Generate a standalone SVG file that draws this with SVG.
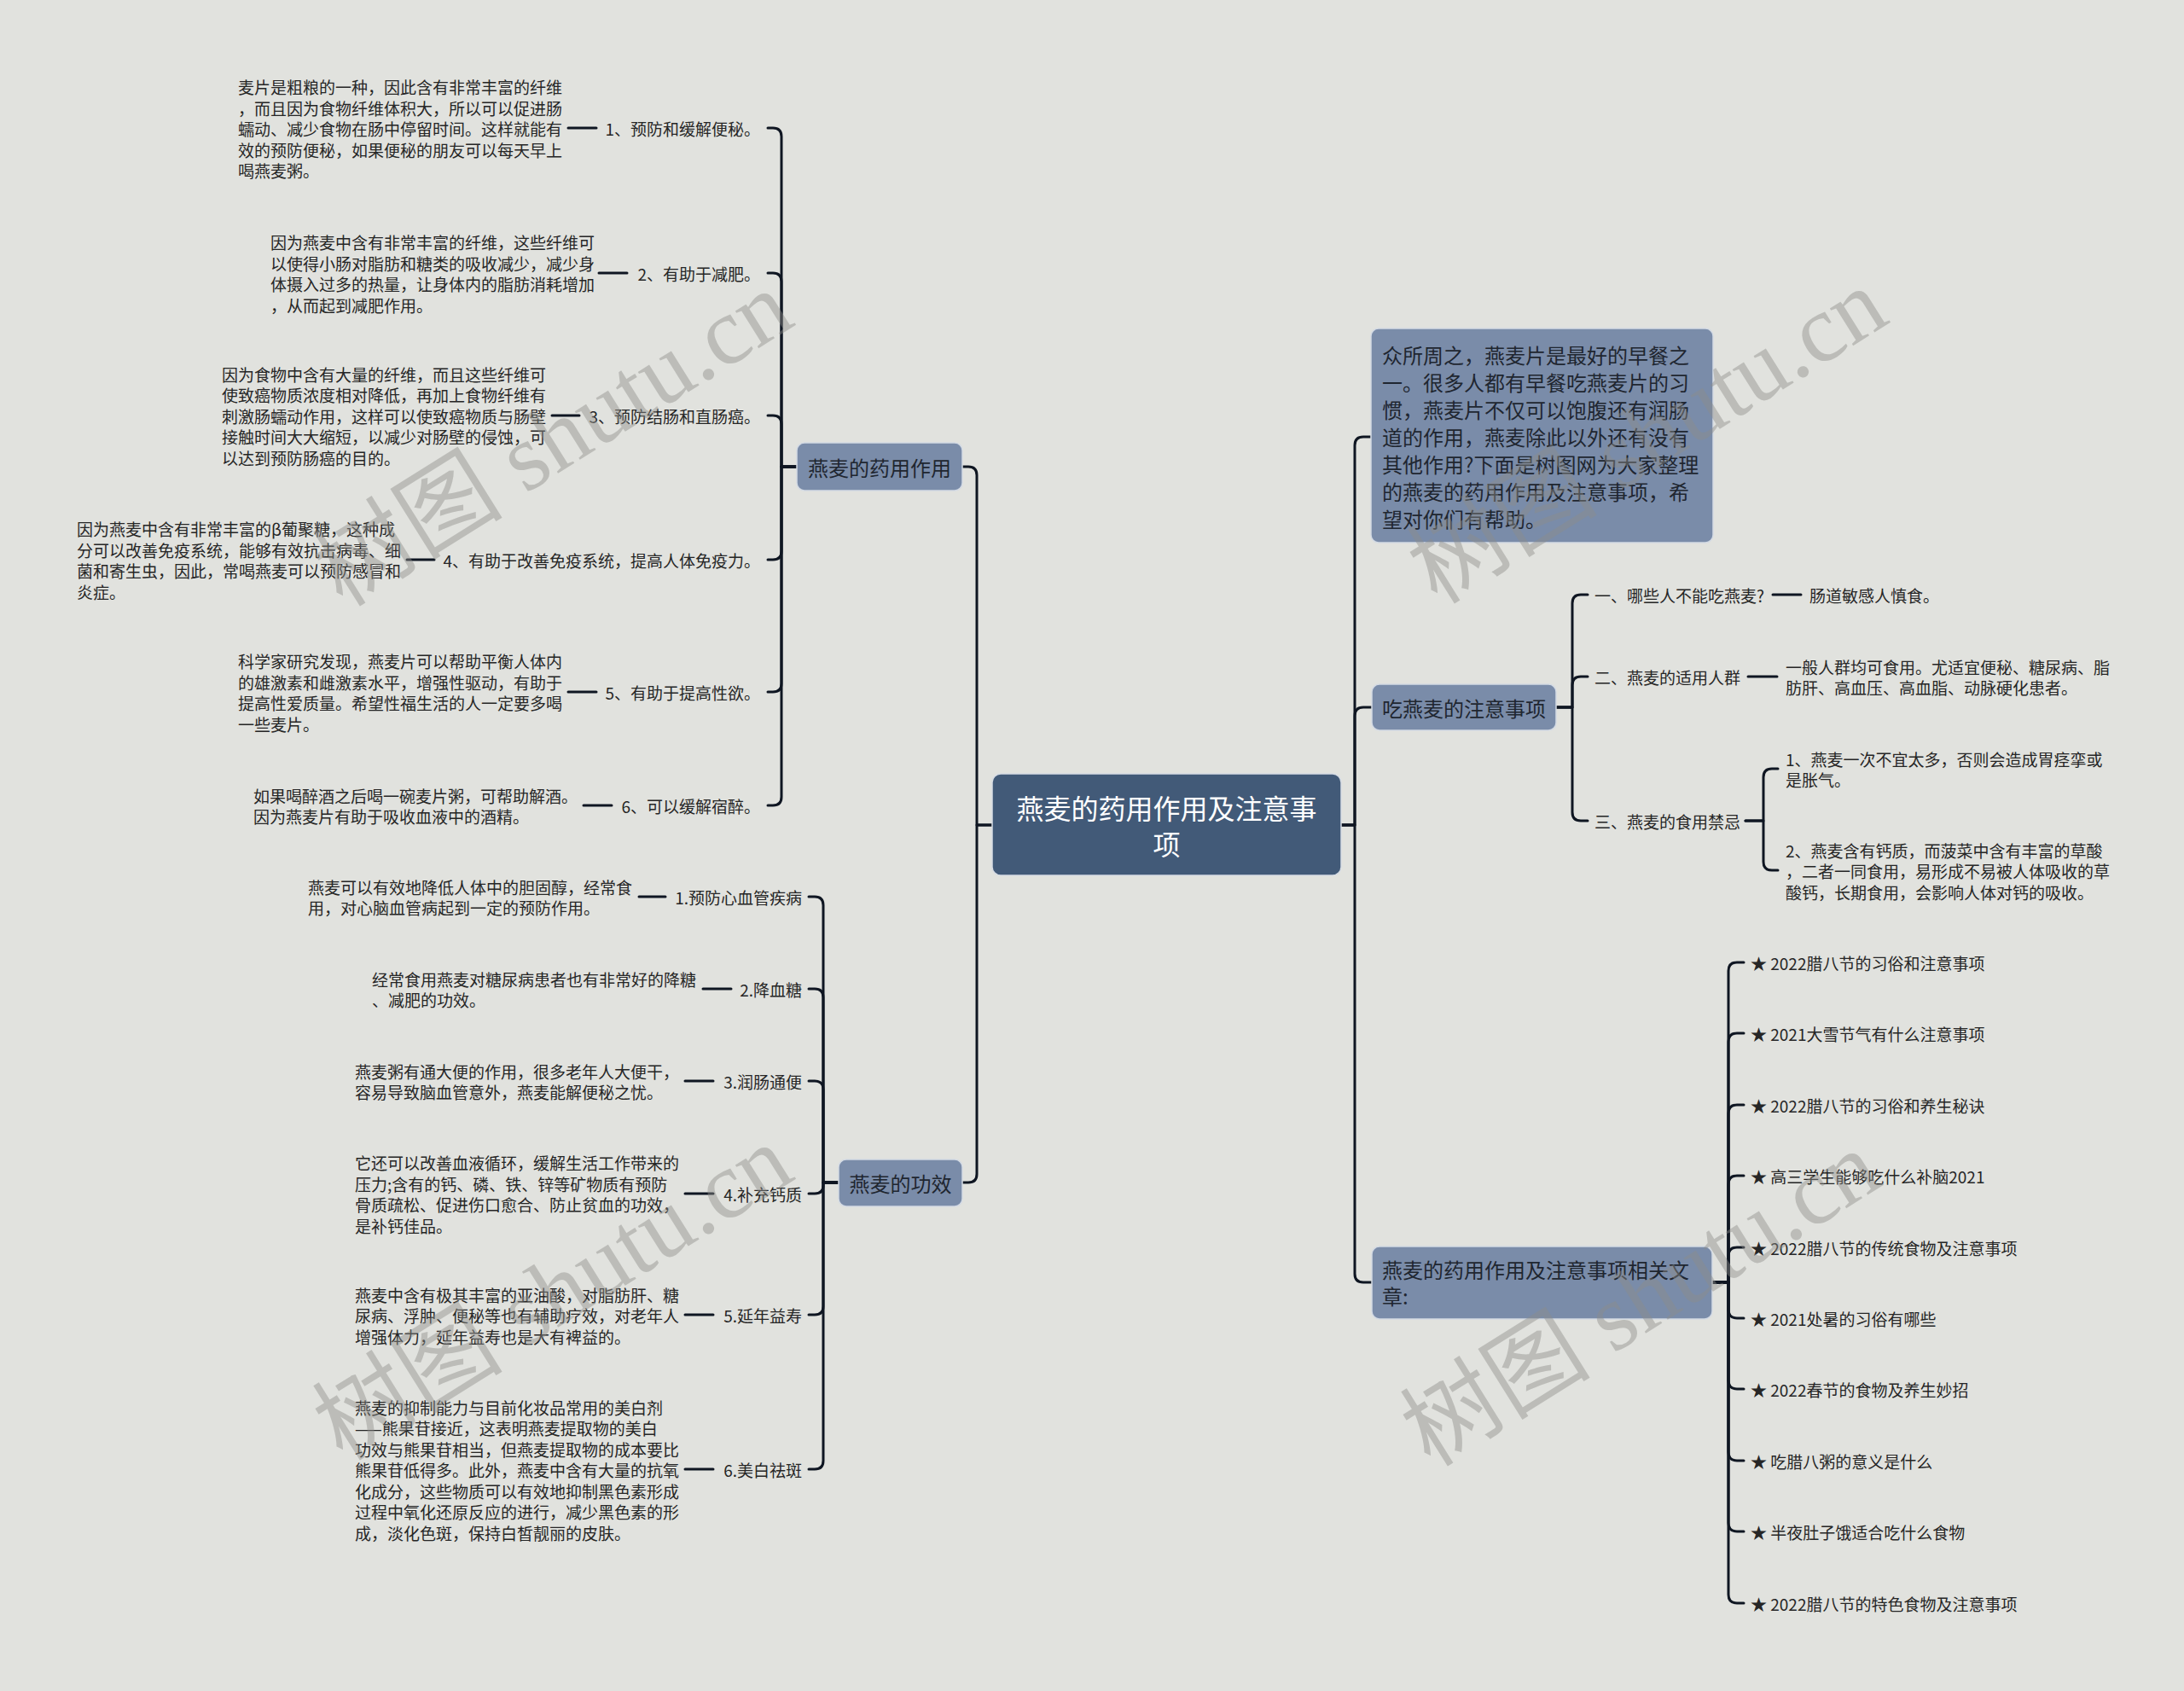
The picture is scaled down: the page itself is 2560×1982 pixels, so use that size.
<svg xmlns="http://www.w3.org/2000/svg" width="2560" height="1982" viewBox="0 0 2560 1982">
<defs>
<style>
.bg{fill:#e1e2de}
.ln{fill:none;stroke:#0f1622;stroke-width:3;stroke-linecap:round;stroke-linejoin:round}
.t{font-family:"Noto Sans CJK SC","Noto Sans",sans-serif;font-size:19px;fill:#262626;dominant-baseline:central}
.e{text-anchor:end}
.root{fill:#425a78;stroke:#d6dce4;stroke-width:1.5}
.rt{font-family:"Noto Sans CJK SC","Noto Sans",sans-serif;font-size:32px;fill:#ffffff;text-anchor:middle;dominant-baseline:central}
.br{fill:#7a8ca9;stroke:#d3dae4;stroke-width:1.5}
.bt{font-family:"Noto Sans CJK SC","Noto Sans",sans-serif;font-size:24px;fill:#1f2630;dominant-baseline:central}
.m{text-anchor:middle}
.wm{font-family:"Liberation Serif","Noto Sans CJK SC",serif;font-size:112px;fill:#8e8e8a;opacity:0.44;text-anchor:middle;dominant-baseline:central}
</style>
</defs>
<rect class="bg" x="0" y="0" width="2560" height="1982"/>

<g id="connectors">
<path class="ln" d="M1163 967 H1145 V557 Q1145 547 1135 547 H1128"/>
<path class="ln" d="M1163 967 H1145 V1376 Q1145 1386 1135 1386 H1128"/>
<path class="ln" d="M1572 967 H1588 V522 Q1588 512 1598 512 H1607"/>
<path class="ln" d="M1572 967 H1588 V839 Q1588 829 1598 829 H1608"/>
<path class="ln" d="M1572 967 H1588 V1493 Q1588 1503 1598 1503 H1608"/>
<path class="ln" d="M934 547 H916 V160 Q916 150 906 150 H900"/>
<path class="ln" d="M934 547 H916 V330 Q916 320 906 320 H900"/>
<path class="ln" d="M934 547 H916 V497 Q916 487 906 487 H900"/>
<path class="ln" d="M934 547 H916 V646 Q916 656 906 656 H900"/>
<path class="ln" d="M934 547 H916 V801 Q916 811 906 811 H900"/>
<path class="ln" d="M934 547 H916 V934 Q916 944 906 944 H900"/>
<path class="ln" d="M666 150 H699"/>
<path class="ln" d="M702 320 H735"/>
<path class="ln" d="M647 487 H679"/>
<path class="ln" d="M477 656 H509"/>
<path class="ln" d="M666 811 H699"/>
<path class="ln" d="M684 944 H717"/>
<path class="ln" d="M983 1386 H965 V1061 Q965 1051 955 1051 H948"/>
<path class="ln" d="M983 1386 H965 V1169 Q965 1159 955 1159 H948"/>
<path class="ln" d="M983 1386 H965 V1277 Q965 1267 955 1267 H948"/>
<path class="ln" d="M983 1386 H965 V1389 Q965 1399 955 1399 H948"/>
<path class="ln" d="M983 1386 H965 V1531 Q965 1541 955 1541 H948"/>
<path class="ln" d="M983 1386 H965 V1712 Q965 1722 955 1722 H948"/>
<path class="ln" d="M749 1051 H780"/>
<path class="ln" d="M824 1159 H857"/>
<path class="ln" d="M803 1267 H836"/>
<path class="ln" d="M803 1399 H836"/>
<path class="ln" d="M803 1541 H836"/>
<path class="ln" d="M803 1722 H836"/>
<path class="ln" d="M1824 829 H1843 V707 Q1843 697 1853 697 H1861"/>
<path class="ln" d="M1824 829 H1843 V803 Q1843 793 1853 793 H1861"/>
<path class="ln" d="M1824 829 H1843 V952 Q1843 962 1853 962 H1861"/>
<path class="ln" d="M2078 697 H2111"/>
<path class="ln" d="M2049 793 H2083"/>
<path class="ln" d="M2046 962 H2067 V911 Q2067 901 2077 901 H2084"/>
<path class="ln" d="M2046 962 H2067 V1010 Q2067 1020 2077 1020 H2084"/>
<path class="ln" d="M2007 1503 H2026 V1138 Q2026 1128 2036 1128 H2044"/>
<path class="ln" d="M2007 1503 H2026 V1221 Q2026 1211 2036 1211 H2044"/>
<path class="ln" d="M2007 1503 H2026 V1305 Q2026 1295 2036 1295 H2044"/>
<path class="ln" d="M2007 1503 H2026 V1388 Q2026 1378 2036 1378 H2044"/>
<path class="ln" d="M2007 1503 H2026 V1472 Q2026 1462 2036 1462 H2044"/>
<path class="ln" d="M2007 1503 H2026 V1535 Q2026 1545 2036 1545 H2044"/>
<path class="ln" d="M2007 1503 H2026 V1618 Q2026 1628 2036 1628 H2044"/>
<path class="ln" d="M2007 1503 H2026 V1702 Q2026 1712 2036 1712 H2044"/>
<path class="ln" d="M2007 1503 H2026 V1785 Q2026 1795 2036 1795 H2044"/>
<path class="ln" d="M2007 1503 H2026 V1869 Q2026 1879 2036 1879 H2044"/>
</g>

<g id="root">
<rect class="root" x="1163" y="907" width="409" height="119" rx="10"/>
<text class="rt" x="1367.5" y="946">燕麦的药用作用及注意事</text>
<text class="rt" x="1367.5" y="988">项</text>
</g>

<g id="b1">
<rect class="br" x="934" y="519" width="194" height="56" rx="9"/>
<text class="bt m" x="1031" y="547">燕麦的药用作用</text>
</g>
<g id="b1-1">
<text class="t e" x="891" y="150">1、预防和缓解便秘。</text>
<text class="t" x="279" y="101">麦片是粗粮的一种，因此含有非常丰富的纤维</text>
<text class="t" x="279" y="126">，而且因为食物纤维体积大，所以可以促进肠</text>
<text class="t" x="279" y="150">蠕动、减少食物在肠中停留时间。这样就能有</text>
<text class="t" x="279" y="175">效的预防便秘，如果便秘的朋友可以每天早上</text>
<text class="t" x="279" y="199">喝燕麦粥。</text>
</g>
<g id="b1-2">
<text class="t e" x="891" y="320">2、有助于减肥。</text>
<text class="t" x="317" y="283">因为燕麦中含有非常丰富的纤维，这些纤维可</text>
<text class="t" x="317" y="308">以使得小肠对脂肪和糖类的吸收减少，减少身</text>
<text class="t" x="317" y="332">体摄入过多的热量，让身体内的脂肪消耗增加</text>
<text class="t" x="317" y="357">，从而起到减肥作用。</text>
</g>
<g id="b1-3">
<text class="t e" x="891" y="487">3、预防结肠和直肠癌。</text>
<text class="t" x="260" y="438">因为食物中含有大量的纤维，而且这些纤维可</text>
<text class="t" x="260" y="462">使致癌物质浓度相对降低，再加上食物纤维有</text>
<text class="t" x="260" y="487">刺激肠蠕动作用，这样可以使致癌物质与肠壁</text>
<text class="t" x="260" y="511">接触时间大大缩短，以减少对肠壁的侵蚀，可</text>
<text class="t" x="260" y="536">以达到预防肠癌的目的。</text>
</g>
<g id="b1-4">
<text class="t e" x="891" y="656">4、有助于改善免疫系统，提高人体免疫力。</text>
<text class="t" x="90" y="619">因为燕麦中含有非常丰富的β葡聚糖，这种成</text>
<text class="t" x="90" y="644">分可以改善免疫系统，能够有效抗击病毒、细</text>
<text class="t" x="90" y="668">菌和寄生虫，因此，常喝燕麦可以预防感冒和</text>
<text class="t" x="90" y="693">炎症。</text>
</g>
<g id="b1-5">
<text class="t e" x="891" y="811">5、有助于提高性欲。</text>
<text class="t" x="279" y="774">科学家研究发现，燕麦片可以帮助平衡人体内</text>
<text class="t" x="279" y="799">的雄激素和雌激素水平，增强性驱动，有助于</text>
<text class="t" x="279" y="823">提高性爱质量。希望性福生活的人一定要多喝</text>
<text class="t" x="279" y="848">一些麦片。</text>
</g>
<g id="b1-6">
<text class="t e" x="891" y="944">6、可以缓解宿醉。</text>
<text class="t" x="297" y="932">如果喝醉酒之后喝一碗麦片粥，可帮助解酒。</text>
<text class="t" x="297" y="956">因为燕麦片有助于吸收血液中的酒精。</text>
</g>

<g id="b2">
<rect class="br" x="983" y="1359" width="145" height="55" rx="9"/>
<text class="bt m" x="1055.5" y="1386">燕麦的功效</text>
</g>
<g id="b2-1">
<text class="t e" x="940" y="1051">1.预防心血管疾病</text>
<text class="t" x="361" y="1039">燕麦可以有效地降低人体中的胆固醇，经常食</text>
<text class="t" x="361" y="1063">用，对心脑血管病起到一定的预防作用。</text>
</g>
<g id="b2-2">
<text class="t e" x="940" y="1159">2.降血糖</text>
<text class="t" x="436" y="1147">经常食用燕麦对糖尿病患者也有非常好的降糖</text>
<text class="t" x="436" y="1171">、减肥的功效。</text>
</g>
<g id="b2-3">
<text class="t e" x="940" y="1267">3.润肠通便</text>
<text class="t" x="416" y="1255">燕麦粥有通大便的作用，很多老年人大便干，</text>
<text class="t" x="416" y="1279">容易导致脑血管意外，燕麦能解便秘之忧。</text>
</g>
<g id="b2-4">
<text class="t e" x="940" y="1399">4.补充钙质</text>
<text class="t" x="416" y="1362">它还可以改善血液循环，缓解生活工作带来的</text>
<text class="t" x="416" y="1387">压力;含有的钙、磷、铁、锌等矿物质有预防</text>
<text class="t" x="416" y="1411">骨质疏松、促进伤口愈合、防止贫血的功效，</text>
<text class="t" x="416" y="1436">是补钙佳品。</text>
</g>
<g id="b2-5">
<text class="t e" x="940" y="1541">5.延年益寿</text>
<text class="t" x="416" y="1517">燕麦中含有极其丰富的亚油酸，对脂肪肝、糖</text>
<text class="t" x="416" y="1541">尿病、浮肿、便秘等也有辅助疗效，对老年人</text>
<text class="t" x="416" y="1566">增强体力，延年益寿也是大有裨益的。</text>
</g>
<g id="b2-6">
<text class="t e" x="940" y="1722">6.美白祛斑</text>
<text class="t" x="416" y="1649">燕麦的抑制能力与目前化妆品常用的美白剂</text>
<text class="t" x="416" y="1673">——熊果苷接近，这表明燕麦提取物的美白</text>
<text class="t" x="416" y="1698">功效与熊果苷相当，但燕麦提取物的成本要比</text>
<text class="t" x="416" y="1722">熊果苷低得多。此外，燕麦中含有大量的抗氧</text>
<text class="t" x="416" y="1747">化成分，这些物质可以有效地抑制黑色素形成</text>
<text class="t" x="416" y="1771">过程中氧化还原反应的进行，减少黑色素的形</text>
<text class="t" x="416" y="1796">成，淡化色斑，保持白皙靓丽的皮肤。</text>
</g>

<g id="intro">
<rect class="br" x="1607" y="385" width="401" height="251" rx="9"/>
<text class="bt" x="1620" y="415">众所周之，燕麦片是最好的早餐之</text>
<text class="bt" x="1620" y="447">一。很多人都有早餐吃燕麦片的习</text>
<text class="bt" x="1620" y="479">惯，燕麦片不仅可以饱腹还有润肠</text>
<text class="bt" x="1620" y="511">道的作用，燕麦除此以外还有没有</text>
<text class="bt" x="1620" y="543">其他作用?下面是树图网为大家整理</text>
<text class="bt" x="1620" y="575">的燕麦的药用作用及注意事项，希</text>
<text class="bt" x="1620" y="607">望对你们有帮助。</text>
</g>

<g id="b3">
<rect class="br" x="1608" y="802" width="216" height="54" rx="9"/>
<text class="bt m" x="1716" y="829">吃燕麦的注意事项</text>
</g>
<g id="b3-1">
<text class="t" x="1869" y="697">一、哪些人不能吃燕麦?</text>
<text class="t" x="2121" y="697">肠道敏感人慎食。</text>
</g>
<g id="b3-2">
<text class="t" x="1869" y="793">二、燕麦的适用人群</text>
<text class="t" x="2093" y="781">一般人群均可食用。尤适宜便秘、糖尿病、脂</text>
<text class="t" x="2093" y="805">肪肝、高血压、高血脂、动脉硬化患者。</text>
</g>
<g id="b3-3">
<text class="t" x="1869" y="962">三、燕麦的食用禁忌</text>
<text class="t" x="2093" y="889">1、燕麦一次不宜太多，否则会造成胃痉挛或</text>
<text class="t" x="2093" y="913">是胀气。</text>
<text class="t" x="2093" y="996">2、燕麦含有钙质，而菠菜中含有丰富的草酸</text>
<text class="t" x="2093" y="1020">，二者一同食用，易形成不易被人体吸收的草</text>
<text class="t" x="2093" y="1045">酸钙，长期食用，会影响人体对钙的吸收。</text>
</g>

<g id="b4">
<rect class="br" x="1608" y="1461" width="399" height="85" rx="9"/>
<text class="bt" x="1620" y="1487">燕麦的药用作用及注意事项相关文</text>
<text class="bt" x="1620" y="1518">章:</text>
</g>
<g id="b4-items">
<text class="t" x="2052" y="1128">★ 2022腊八节的习俗和注意事项</text>
<text class="t" x="2052" y="1211">★ 2021大雪节气有什么注意事项</text>
<text class="t" x="2052" y="1295">★ 2022腊八节的习俗和养生秘诀</text>
<text class="t" x="2052" y="1378">★ 高三学生能够吃什么补脑2021</text>
<text class="t" x="2052" y="1462">★ 2022腊八节的传统食物及注意事项</text>
<text class="t" x="2052" y="1545">★ 2021处暑的习俗有哪些</text>
<text class="t" x="2052" y="1628">★ 2022春节的食物及养生妙招</text>
<text class="t" x="2052" y="1712">★ 吃腊八粥的意义是什么</text>
<text class="t" x="2052" y="1795">★ 半夜肚子饿适合吃什么食物</text>
<text class="t" x="2052" y="1879">★ 2022腊八节的特色食物及注意事项</text>
</g>

<g id="watermarks">
<text class="wm" transform="translate(648 514) rotate(-32)">树图 shutu.cn</text>
<text class="wm" transform="translate(1931 511) rotate(-32)">树图 shutu.cn</text>
<text class="wm" transform="translate(648 1515) rotate(-32)">树图 shutu.cn</text>
<text class="wm" transform="translate(1923 1522) rotate(-32)">树图 shutu.cn</text>
</g>
</svg>
